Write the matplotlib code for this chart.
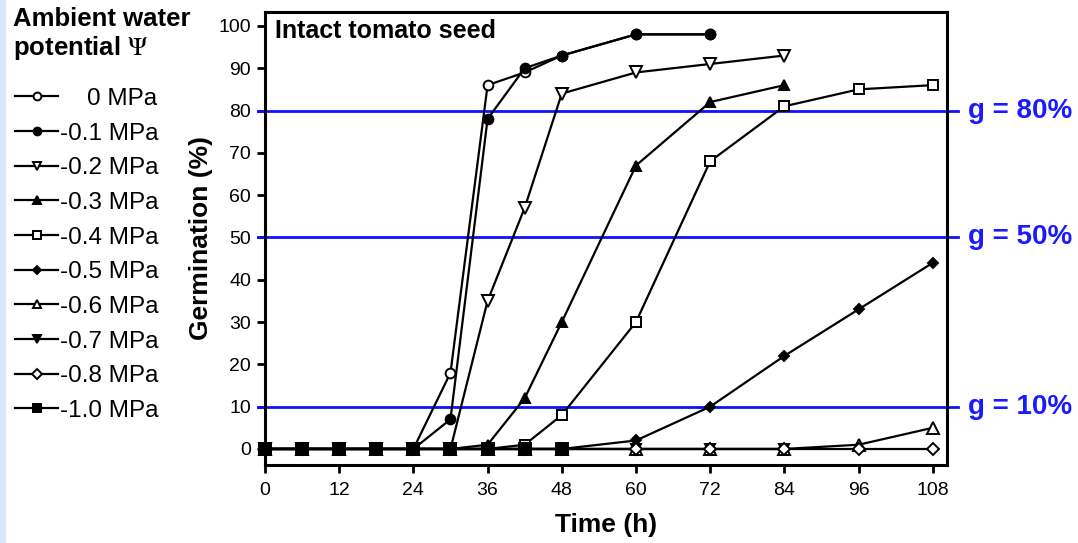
import matplotlib.pyplot as plt
from matplotlib import rc
from matplotlib.patches import Rectangle
import numpy as np

font = {'family': ['Liberation Sans', 'DejaVu Sans'],
        'weight': 'normal',
        'size': 14}
rc('font', **font)
rc('mathtext', fontset='stix')

# germination (%) vs time (h) for each ambient water potential
t_early = [0, 6, 12, 18, 24, 30, 36, 42, 48, 60, 72]
g_0 = [0, 0, 0, 0, 0, 18, 86, 89, 93, 98, 98]
g_01 = [0, 0, 0, 0, 0, 7, 78, 90, 93, 98, 98]

t_mid = [0, 6, 12, 18, 24, 30, 36, 42, 48, 60, 72, 84]
g_02 = [0, 0, 0, 0, 0, 0, 35, 57, 84, 89, 91, 93]
g_03 = [0, 0, 0, 0, 0, 0, 1, 12, 30, 67, 82, 86]
g_07 = [0, 0, 0, 0, 0, 0, 0, 0, 0, 0, 0, 0]

t_long = [0, 6, 12, 18, 24, 30, 36, 42, 48, 60, 72, 84, 96, 108]
g_04 = [0, 0, 0, 0, 0, 0, 0, 1, 8, 30, 68, 81, 85, 86]
g_05 = [0, 0, 0, 0, 0, 0, 0, 0, 0, 2, 10, 22, 33, 44]
g_06 = [0, 0, 0, 0, 0, 0, 0, 0, 0, 0, 0, 0, 1, 5]
g_08 = [0, 0, 0, 0, 0, 0, 0, 0, 0, 0, 0, 0, 0, 0]

t_short = [0, 6, 12, 18, 24, 30, 36, 42, 48]
g_10 = [0, 0, 0, 0, 0, 0, 0, 0, 0]

series = [
    ('    0 MPa', t_early, g_0, 'o', 'white', 7),
    ('-0.1 MPa', t_early, g_01, 'o', 'black', 7),
    ('-0.2 MPa', t_mid, g_02, 'v', 'white', 8),
    ('-0.3 MPa', t_mid, g_03, '^', 'black', 7),
    ('-0.4 MPa', t_long, g_04, 's', 'white', 7),
    ('-0.5 MPa', t_long, g_05, 'D', 'black', 5),
    ('-0.6 MPa', t_long, g_06, '^', 'white', 8),
    ('-0.7 MPa', t_mid, g_07, 'v', 'black', 7),
    ('-0.8 MPa', t_long, g_08, 'D', 'white', 6),
    ('-1.0 MPa', t_short, g_10, 's', 'black', 8),
]

thresholds = [80, 50, 10]

fig = plt.figure(figsize=(10.78, 5.43), dpi=100)
fig.patches.append(Rectangle((0, 0), 0.005, 1, transform=fig.transFigure,
                             color='#d6e8f7', zorder=0))
ax = fig.add_axes([0.2458, 0.1436, 0.6327, 0.8344])

handles = []
for label, t, g, m, fc, ms in series:
    h, = ax.plot(t, g, marker=m, markerfacecolor=fc, markeredgecolor='black',
                 color='black', lw=1.6, ms=ms, mew=1.4, clip_on=False, label=label,
                 zorder=3)
    handles.append(h)

for thr in thresholds:
    ax.axhline(thr, xmin=-0.01, xmax=1.016, color='#1010ff', lw=2, clip_on=False, zorder=2)
    ax.text(1.031, thr, 'g = %d%%' % thr, transform=ax.get_yaxis_transform(),
            color='#1a1aff', fontsize=20, fontweight='bold', va='center', ha='left')

ax.set_xlim(0, 110.3)
ax.set_ylim(-3.8, 103.3)
ax.set_xticks(np.arange(0, 109, 12))
ax.set_yticks(np.arange(0, 101, 10))
ax.tick_params(direction='out', length=6, width=2, labelsize=14)
ax.tick_params(axis='x', pad=6)
ax.tick_params(axis='y', pad=4)
for s in ax.spines.values():
    s.set_linewidth(2.2)

ax.set_xlabel('Time (h)', fontsize=19, fontweight='bold', labelpad=10)
ax.set_ylabel('Germination (%)', fontsize=19, fontweight='bold', labelpad=4)
ax.text(0.015, 0.985, 'Intact tomato seed', transform=ax.transAxes,
        fontsize=18, fontweight='bold', va='top', ha='left')

fig.text(0.012, 0.988, 'Ambient water\npotential $\\Psi$', fontsize=18.5,
         fontweight='bold', va='top', ha='left', linespacing=1.15)

leg = fig.legend(handles=handles, loc='upper left', bbox_to_anchor=(0.014, 0.838),
                 frameon=False, fontsize=17.5, handlelength=1.77, handletextpad=0.08,
                 labelspacing=0.52, borderaxespad=0, borderpad=0, markerscale=0.8)

fig.savefig('out.png', dpi=100)
